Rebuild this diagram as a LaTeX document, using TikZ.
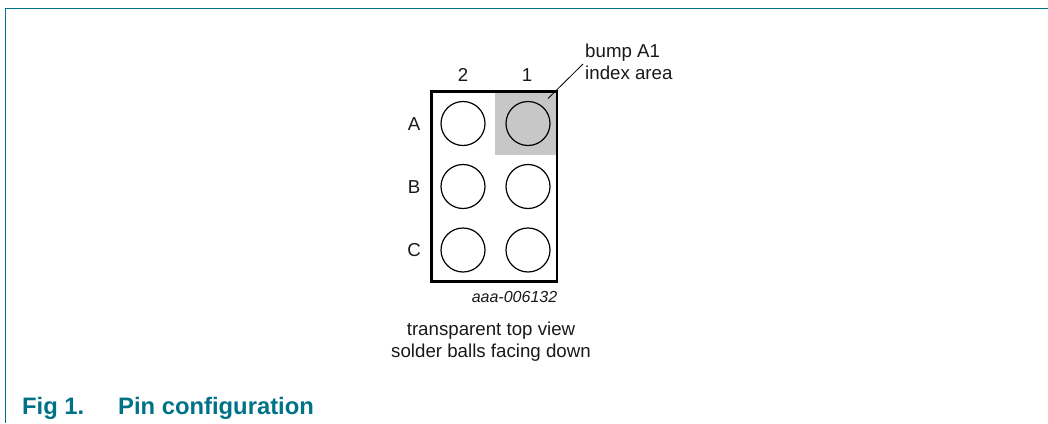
\documentclass[tikz,border=0pt]{standalone}
\usepackage{fontspec}
\setmainfont{Liberation Sans}
\definecolor{nxp}{RGB}{0,114,136}
\begin{document}
\begin{tikzpicture}[x=1pt,y=-1pt,
  lbl/.style={inner sep=0pt,font=\fontsize{18.7}{22}\selectfont,text=black!90},
  ball/.style={circle,draw=black,line width=1.2pt,minimum size=44pt,inner sep=0pt},
  frame/.style={draw=nxp,line width=1.7pt}]
\useasboundingbox (0,0) rectangle (1048,423);
\coordinate (fa) at (5.5,423);
\coordinate (fb) at (5.5,8.5);
\coordinate (fc) at (1048,8.5);
\draw[frame] (fa) -- (fb) -- (fc);
\fill[black!22] (495,92) rectangle (556,155);
\node[ball] (a2) at (463,123.5) {};
\node[ball] (a1) at (528,123.5) {};
\node[ball] (b2) at (463,186.5) {};
\node[ball] (b1) at (528,186.5) {};
\node[ball] (c2) at (463,250) {};
\node[ball] (c1) at (528,250) {};
\draw[line width=2.8pt] (431.5,91.5) rectangle (557,281.5);
\node[lbl] (n2) at (463,75) {2};
\node[lbl] (n1) at (527,75) {1};
\node[lbl] (la) at (414,124) {A};
\node[lbl] (lb) at (414,187) {B};
\node[lbl] (lc) at (414,250) {C};
\node[lbl,anchor=west,align=left] (bump) at (585,62) {bump A1\\index area};
\coordinate (tip) at (548,98.5);
\draw[line width=0.8pt] (tip) -- (583,64);
\node[inner sep=0pt,font=\fontsize{16}{19}\selectfont\itshape,text=black!90] (code) at (514.5,297) {aaa-006132};
\node[lbl,align=center] (cap) at (491,342) {transparent top view\\solder balls facing down};
\node[inner sep=0pt,anchor=base west,font=\fontsize{23.8}{28}\selectfont\bfseries,text=nxp] (fig) at (22,414) {Fig 1.};
\node[inner sep=0pt,anchor=base west,font=\fontsize{23.8}{28}\selectfont\bfseries,text=nxp] (title) at (118,414) {Pin configuration};
\end{tikzpicture}
\end{document}
